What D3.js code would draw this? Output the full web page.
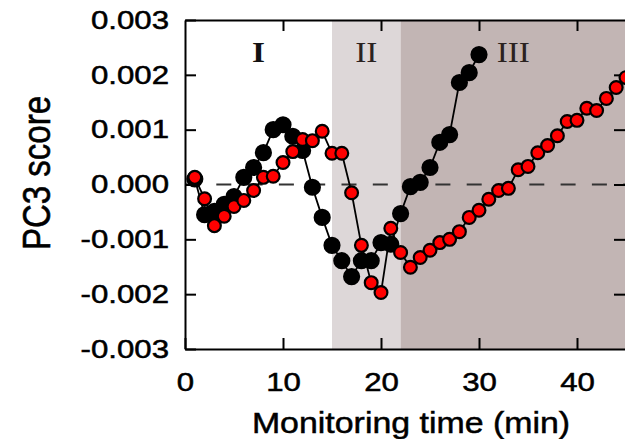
<!DOCTYPE html>
<html>
<head>
<meta charset="utf-8">
<script src="https://cdn.jsdelivr.net/npm/d3@7/dist/d3.min.js"></script>
<style>
  html, body { margin: 0; padding: 0; background: #fff; }
  svg { display: block; }
</style>
</head>
<body>
<svg id="chart" width="625" height="439"></svg>
<script>
// Monitoring time (min) for each series
const timeBlack = [1,2,3,4,5,6,7,8,9,10,11,12,13,14,15,16,17,18,19,20,21,22,23,24,25,26,27,28,29,30];
const timeRed = [1,2,3,4,5,6,7,8,9,10,11,12,13,14,15,16,17,18,19,20,21,22,23,24,25,26,27,28,29,30,
                 31,32,33,34,35,36,37,38,39,40,41,42,43,44,45];

// PC3 scores (x 0.001)
const scoreBlack = [0.10,-0.55,-0.49,-0.36,-0.22,0.13,0.31,0.58,1.00,1.09,0.88,0.62,-0.05,-0.60,-1.11,
                    -1.39,-1.68,-1.39,-1.39,-1.06,-1.09,-0.53,-0.04,0.04,0.31,0.77,0.91,1.86,2.04,2.37];
const scoreRed = [0.13,-0.26,-0.75,-0.58,-0.40,-0.29,-0.11,0.13,0.15,0.40,0.60,0.82,0.80,0.97,0.57,
                  0.57,-0.15,-1.11,-1.79,-1.97,-0.80,-1.24,-1.51,-1.33,-1.20,-1.06,-1.00,-0.86,-0.60,-0.47,
                  -0.27,-0.11,-0.07,0.27,0.33,0.58,0.71,0.89,1.15,1.17,1.39,1.35,1.57,1.77,1.95];

// Phases of the run
const phaseNames = ["I", "II", "III"];
const phaseStart = [0, 15, 22];
const phaseEnd = [15, 22, 45];

// Axis ticks
const xTicks = [0, 10, 20, 30, 40];
const xTickLabels = ["0", "10", "20", "30", "40"];
const yTicks = [-0.003, -0.002, -0.001, 0, 0.001, 0.002, 0.003];
const yTickLabels = ["-0.003", "-0.002", "-0.001", "0.000", "0.001", "0.002", "0.003"];

const svg = d3.select("#chart");
const plotLeft = 185, plotRight = 626, plotTop = 20, plotBottom = 349;
const wide = 1.2; // horizontal widening of the lettering

const x = d3.scaleLinear().domain([0, 45]).range([plotLeft, plotRight]);
const y = d3.scaleLinear().domain([-0.003, 0.003]).range([plotBottom, plotTop]);

svg.append("defs").append("clipPath").attr("id", "plot")
  .append("rect").attr("x", plotLeft).attr("y", plotTop)
  .attr("width", plotRight - plotLeft).attr("height", plotBottom - plotTop);

// phase shading
const phaseFill = ["none", "#ddd7d8", "#c2b5b4"];
svg.append("g").selectAll("rect").data(phaseNames).join("rect")
  .attr("x", (d, i) => x(phaseStart[i]))
  .attr("y", plotTop)
  .attr("width", (d, i) => x(phaseEnd[i]) - x(phaseStart[i]))
  .attr("height", plotBottom - plotTop)
  .attr("fill", (d, i) => phaseFill[i]);

// phase labels
const phaseLabelX = [7.5, 18.5, 33.5];
svg.append("g").selectAll("text").data(phaseNames).join("text")
  .attr("transform", (d, i) => `translate(${x(phaseLabelX[i])},62) scale(1.15,1)`)
  .attr("text-anchor", "middle")
  .attr("font-family", "'Liberation Serif', 'DejaVu Serif', serif")
  .attr("font-size", 29)
  .attr("font-weight", (d, i) => i === 0 ? "bold" : "normal")
  .attr("fill", (d, i) => i === 0 ? "#111" : "#2a2220")
  .text(d => d);

// zero reference line
svg.append("line")
  .attr("x1", plotLeft).attr("x2", plotRight)
  .attr("y1", y(0)).attr("y2", y(0))
  .attr("stroke", "#333").attr("stroke-width", 2)
  .attr("stroke-dasharray", "15,16.3");

// axes
const axisFont = "'Liberation Sans', Arial, sans-serif";
const xAxisBottom = d3.axisBottom(x).tickValues(xTicks)
  .tickFormat((d, i) => xTickLabels[i]).tickSizeInner(-11).tickSizeOuter(0).tickPadding(24);
const xAxisTop = d3.axisTop(x).tickValues(xTicks.slice(1))
  .tickFormat("").tickSizeInner(-11).tickSizeOuter(0);
const yAxisLeft = d3.axisLeft(y).tickValues(yTicks)
  .tickFormat((d, i) => yTickLabels[i]).tickSizeInner(-11).tickSizeOuter(0).tickPadding(16);
const yAxisRight = d3.axisRight(y).tickValues(yTicks.slice(1, -1))
  .tickFormat("").tickSizeInner(-12).tickSizeOuter(0);

function styleAxis(g) {
  g.select(".domain").attr("stroke", "#000").attr("stroke-width", 2);
  g.selectAll(".tick line").attr("stroke", "#000").attr("stroke-width", 2);
  g.selectAll(".tick text")
    .attr("font-family", axisFont).attr("font-size", 26).attr("fill", "#000")
    .attr("stroke", "#000").attr("stroke-width", 0.5)
    .attr("transform", function () {
      const x0 = +this.getAttribute("x") || 0;
      return `translate(${x0},0) scale(${wide},1) translate(${-x0},0)`;
    });
}

svg.append("g").attr("transform", `translate(0,${plotBottom})`).call(xAxisBottom).call(styleAxis);
svg.append("g").attr("transform", `translate(0,${plotTop})`).call(xAxisTop).call(styleAxis);
svg.append("g").attr("transform", `translate(${plotLeft},0)`).call(yAxisLeft).call(styleAxis);
svg.append("g").attr("transform", `translate(${plotRight},0)`).call(yAxisRight).call(styleAxis);

// series
const series = [
  { t: timeBlack, v: scoreBlack, fill: "#000", r: 7.5 },
  { t: timeRed, v: scoreRed, fill: "#ff0000", r: 6.4 }
];
const line = d3.line().x(d => x(d[0])).y(d => y(d[1] / 1000));
const plot = svg.append("g").attr("clip-path", "url(#plot)");
series.forEach(s => {
  const pts = s.t.map((t, i) => [t, s.v[i]]);
  plot.append("path").datum(pts)
    .attr("d", line).attr("fill", "none")
    .attr("stroke", "#000").attr("stroke-width", 1.8);
  plot.append("g").selectAll("circle").data(pts).join("circle")
    .attr("cx", d => x(d[0])).attr("cy", d => y(d[1] / 1000))
    .attr("r", s.r)
    .attr("fill", s.fill).attr("stroke", "#000").attr("stroke-width", 2.2);
});

// axis titles
svg.append("text")
  .attr("transform", "translate(411,433) scale(1.13,1)")
  .attr("text-anchor", "middle")
  .attr("font-family", axisFont).attr("font-size", 30)
  .attr("stroke", "#000").attr("stroke-width", 0.5)
  .text("Monitoring time (min)");
svg.append("text")
  .attr("transform", "translate(50,173) rotate(-90) scale(1,1.2)")
  .attr("text-anchor", "middle")
  .attr("font-family", axisFont).attr("font-size", 33)
  .attr("stroke", "#000").attr("stroke-width", 0.5)
  .text("PC3 score");
</script>
</body>
</html>
